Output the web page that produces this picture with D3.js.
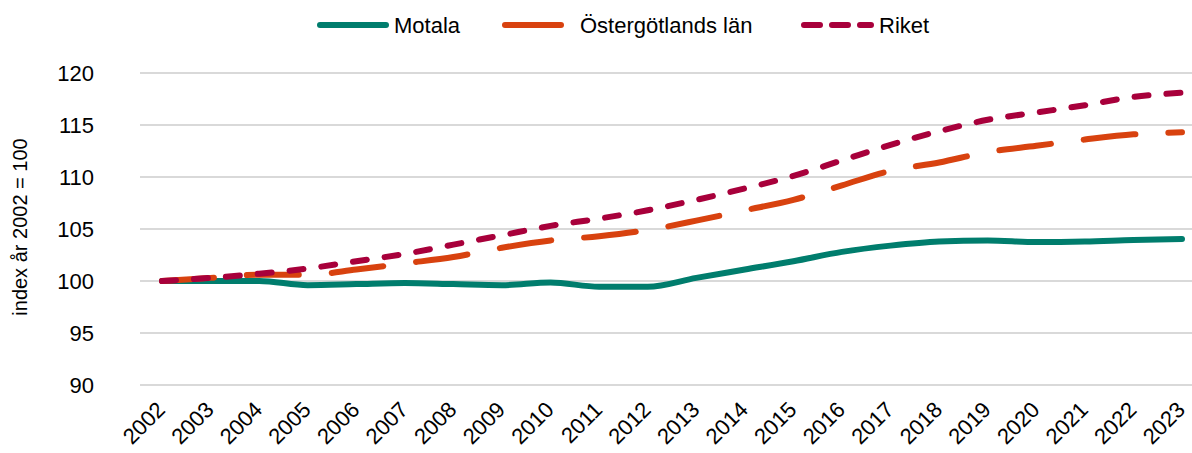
<!DOCTYPE html>
<html>
<head>
<meta charset="utf-8">
<script src="https://cdn.jsdelivr.net/npm/d3@7"></script>
<style>
  html, body { margin: 0; padding: 0; background: #fff; }
  body { font-family: "Liberation Sans", Arial, sans-serif; }
</style>
</head>
<body>
<div id="chart"></div>
<script>
// Index (2002 = 100): Motala vs Östergötlands län vs Riket.

const YEARS = d3.range(2002, 2024).map(String);

const MOTALA = [100.0, 100.0, 100.0, 99.6, 99.7, 99.8, 99.7, 99.6, 99.85, 99.45, 99.45,
                100.3, 101.1, 101.9, 102.8, 103.4, 103.8, 103.9, 103.75, 103.8, 103.95, 104.05];
const LAN    = [100.0, 100.3, 100.6, 100.6, 101.1, 101.7, 102.3, 103.2, 103.9, 104.3, 104.9,
                105.8, 106.8, 107.8, 109.2, 110.6, 111.4, 112.4, 113.0, 113.6, 114.1, 114.3];
const RIKET  = [100.0, 100.3, 100.7, 101.2, 101.9, 102.6, 103.5, 104.4, 105.3, 106.0, 106.8,
                107.8, 108.9, 110.1, 111.6, 113.1, 114.4, 115.5, 116.2, 116.9, 117.7, 118.1];

const Y_TICKS = [90, 95, 100, 105, 110, 115, 120];

const SERIES = [
  { name: "Motala",            values: MOTALA, color: "#007d6d", dash: null,    legendDash: null,    legendLen: 72 },
  { name: "Östergötlands län", values: LAN,    color: "#d8420f", dash: "52,33", legendDash: null,    legendLen: 62 },
  { name: "Riket",             values: RIKET,  color: "#a8003b", dash: "14,18", legendDash: "16,12", legendLen: 73 },
];

const W = 1192, H = 453;
const plot = { left: 140, right: 1192, top: 73, bottom: 385 };

const svg = d3.select("#chart").append("svg")
  .attr("width", W)
  .attr("height", H);

const x = d3.scalePoint()
  .domain(YEARS)
  .range([162, 1182]);

const y = d3.scaleLinear()
  .domain([90, 120])
  .range([plot.bottom, plot.top]);

// ── Gridlines + y axis ──────────────────────────────────────────────────────

svg.append("g")
  .selectAll("line")
  .data(Y_TICKS)
  .join("line")
    .attr("x1", plot.left).attr("x2", plot.right)
    .attr("y1", d => y(d)).attr("y2", d => y(d))
    .attr("stroke", "#d9d9d9")
    .attr("stroke-width", 2);

const yAxis = svg.append("g")
  .attr("transform", "translate(104,0)")
  .call(d3.axisLeft(y).tickValues(Y_TICKS).tickSize(0).tickPadding(10));
yAxis.select(".domain").remove();
yAxis.selectAll("text")
  .style("font-family", "Liberation Sans, Arial, sans-serif")
  .style("font-size", "22px")
  .style("fill", "#000");

svg.append("text")
  .attr("transform", `translate(27,${(plot.top + plot.bottom) / 2 - 2}) rotate(-90)`)
  .attr("text-anchor", "middle")
  .style("font-size", "20px")
  .style("fill", "#000")
  .text("index år 2002 = 100");

// ── X axis labels ───────────────────────────────────────────────────────────

const xAxis = svg.append("g")
  .attr("transform", `translate(0,${plot.bottom})`)
  .call(d3.axisBottom(x).tickSize(0).tickPadding(0));
xAxis.select(".domain").remove();
xAxis.selectAll("text")
  .style("font-family", "Liberation Sans, Arial, sans-serif")
  .style("font-size", "22px")
  .style("fill", "#000")
  .attr("text-anchor", "end")
  .attr("dy", null)
  .attr("y", 0)
  .attr("transform", "translate(4,26) rotate(-45)");

// ── Lines ───────────────────────────────────────────────────────────────────

const line = d3.line()
  .x((d, i) => x(YEARS[i]))
  .y(d => y(d))
  .curve(d3.curveMonotoneX);

SERIES.forEach(s => {
  svg.append("path")
    .datum(s.values)
    .attr("d", line)
    .attr("fill", "none")
    .attr("stroke", s.color)
    .attr("stroke-width", 6)
    .attr("stroke-linecap", "round")
    .attr("stroke-linejoin", "round")
    .attr("stroke-dasharray", s.dash);
});

// ── Legend ──────────────────────────────────────────────────────────────────

const LEGEND_X = [317, 502, 801];
const legend = svg.append("g");
SERIES.forEach((s, i) => {
  const g = legend.append("g").attr("transform", `translate(${LEGEND_X[i]},25)`);
  g.append("line")
    .attr("x1", 3).attr("x2", s.legendLen - 3)
    .attr("y1", 0).attr("y2", 0)
    .attr("stroke", s.color)
    .attr("stroke-width", 6)
    .attr("stroke-linecap", "round")
    .attr("stroke-dasharray", s.legendDash);
  g.append("text")
    .attr("x", s.legendLen + (i === 1 ? 16 : 5))
    .attr("y", 8)
    .style("font-size", "22px")
    .style("fill", "#000")
    .text(s.name);
});
</script>
</body>
</html>
